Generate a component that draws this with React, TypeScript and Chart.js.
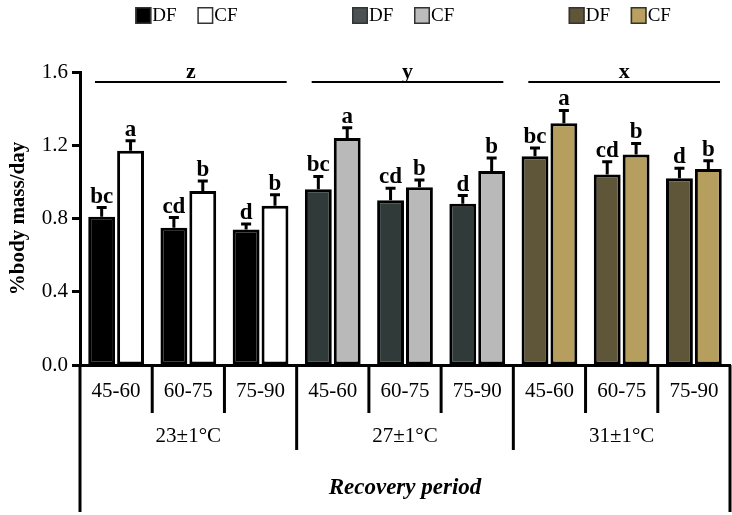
import React, { useEffect, useRef } from 'react';
import { Chart, registerables } from 'chart.js';
Chart.register(...registerables);

const FONT = '"Liberation Serif", "Times New Roman", serif';

const periods = ['45-60', '60-75', '75-90', '45-60', '60-75', '75-90', '45-60', '60-75', '75-90'];
const temperatures = ['23±1°C', '27±1°C', '31±1°C'];
const groupLetters = ['z', 'y', 'x'];
const axisTitleX = 'Recovery period';
const axisTitleY = '%body mass/day';

const dfValues = [0.81, 0.75, 0.74, 0.96, 0.9, 0.88, 1.14, 1.04, 1.02];
const dfErrors = [0.05, 0.055, 0.03, 0.07, 0.065, 0.045, 0.045, 0.07, 0.055];
const cfValues = [1.17, 0.95, 0.87, 1.24, 0.97, 1.06, 1.32, 1.15, 1.07];
const cfErrors = [0.055, 0.055, 0.06, 0.055, 0.04, 0.07, 0.07, 0.06, 0.045];
const dfLetters = ['bc', 'cd', 'd', 'bc', 'cd', 'd', 'bc', 'cd', 'd'];
const cfLetters = ['a', 'b', 'b', 'a', 'b', 'b', 'a', 'b', 'b'];

const dfColors = ['#000000', '#2f3a39', '#5f5538'];
const cfColors = ['#ffffff', '#b9b9b9', '#b59e5e'];
const dfLegendColors = ['#000000', '#4a5252', '#5f5538'];
const cfLegendColors = ['#ffffff', '#bcbcbc', '#b9a060'];

const perGroup = (cols: string[]) => periods.map((_, i) => cols[Math.floor(i / 3)]);

export default function App() {
  const ref = useRef<HTMLCanvasElement>(null);
  useEffect(() => {
    const canvas = ref.current!;
    const overlay = {
      id: 'overlay',
      afterDraw(chart: any) {
        const ctx = chart.ctx;
        const xs = chart.scales.x;
        const ys = chart.scales.y;
        const area = chart.chartArea;
        ctx.save();
        ctx.strokeStyle = '#000';
        ctx.fillStyle = '#000';
        // error bars + letters
        const sets = [
          { vals: dfValues, errs: dfErrors, lets: dfLetters },
          { vals: cfValues, errs: cfErrors, lets: cfLetters },
        ];
        sets.forEach((s, di) => {
          const meta = chart.getDatasetMeta(di);
          meta.data.forEach((bar: any, i: number) => {
            const x = bar.x;
            const yb = bar.y;
            const yt = ys.getPixelForValue(s.vals[i] + s.errs[i]);
            ctx.lineWidth = 3;
            ctx.beginPath();
            ctx.moveTo(x, yb);
            ctx.lineTo(x, yt);
            ctx.moveTo(x - 5, yt);
            ctx.lineTo(x + 5, yt);
            ctx.stroke();
            ctx.font = `bold 23px ${FONT}`;
            ctx.textAlign = 'center';
            ctx.textBaseline = 'alphabetic';
            ctx.fillText(s.lets[i], x, yt - 5);
          });
        });
        // category boundaries
        const n = periods.length;
        const bounds: number[] = [];
        for (let i = 0; i <= n; i++) {
          if (i === 0) bounds.push(area.left);
          else if (i === n) bounds.push(area.right);
          else bounds.push((xs.getPixelForValue(i - 1) + xs.getPixelForValue(i)) / 2);
        }
        // group brackets
        const lineY = ys.getPixelForValue(1.545);
        for (let g = 0; g < 3; g++) {
          const l = bounds[g * 3] + 15;
          const r = bounds[g * 3 + 3] - 10;
          ctx.lineWidth = 2;
          ctx.beginPath();
          ctx.moveTo(l, lineY);
          ctx.lineTo(r, lineY);
          ctx.stroke();
          ctx.font = `bold 22px ${FONT}`;
          ctx.textAlign = 'center';
          ctx.textBaseline = 'alphabetic';
          ctx.fillText(groupLetters[g], (l + r) / 2, lineY - 4);
        }
        // hierarchical x labels
        const base = area.bottom;
        ctx.lineWidth = 3;
        for (let i = 0; i <= n; i++) {
          let len = 48;
          if (i === 0 || i === n) len = 147;
          else if (i % 3 === 0) len = 85;
          ctx.beginPath();
          ctx.moveTo(bounds[i], base);
          ctx.lineTo(bounds[i], base + len);
          ctx.stroke();
        }
        ctx.font = `21px ${FONT}`;
        ctx.textAlign = 'center';
        ctx.textBaseline = 'middle';
        for (let i = 0; i < n; i++) {
          ctx.fillText(periods[i], (bounds[i] + bounds[i + 1]) / 2, base + 26);
        }
        for (let g = 0; g < 3; g++) {
          ctx.fillText(temperatures[g], (bounds[g * 3] + bounds[g * 3 + 3]) / 2, base + 71);
        }
        ctx.font = `italic bold 23px ${FONT}`;
        ctx.fillText(axisTitleX, (area.left + area.right) / 2, base + 123);
        // y title
        ctx.save();
        ctx.translate(19, (area.top + area.bottom) / 2);
        ctx.rotate(-Math.PI / 2);
        ctx.font = `bold 21px ${FONT}`;
        ctx.fillText(axisTitleY, 0, 0);
        ctx.restore();
        // legends
        for (let g = 0; g < 3; g++) {
          const c = (bounds[g * 3] + bounds[g * 3 + 3]) / 2;
          let x0 = c - 53;
          const items = [
            { col: dfLegendColors[g], txt: 'DF' },
            { col: cfLegendColors[g], txt: 'CF' },
          ];
          ctx.font = `19px ${FONT}`;
          ctx.textAlign = 'left';
          ctx.textBaseline = 'middle';
          items.forEach((it) => {
            ctx.fillStyle = it.col;
            ctx.fillRect(x0, 7, 16, 17);
            ctx.strokeStyle = '#333';
            ctx.lineWidth = 1.5;
            ctx.strokeRect(x0 + 0.75, 7.75, 14.5, 15.5);
            ctx.fillStyle = '#000';
            ctx.fillText(it.txt, x0 + 17, 16.5);
            x0 += 62;
          });
        }
        ctx.restore();
      },
    };
    const chart = new Chart(canvas, {
      type: 'bar',
      data: {
        labels: periods,
        datasets: [
          {
            label: 'DF',
            data: dfValues,
            backgroundColor: perGroup(dfColors),
            borderColor: '#000',
            borderWidth: 3,
            borderSkipped: false,
          },
          {
            label: 'CF',
            data: cfValues,
            backgroundColor: perGroup(cfColors),
            borderColor: '#000',
            borderWidth: 3,
            borderSkipped: false,
          },
        ],
      },
      options: {
        responsive: false,
        animation: false,
        devicePixelRatio: 1,
        layout: { padding: { top: 72, right: 2, left: 0, bottom: 0 } },
        datasets: { bar: { categoryPercentage: 0.8, barPercentage: 0.93 } },
        plugins: { legend: { display: false }, tooltip: { enabled: false } },
        scales: {
          x: {
            afterFit: (s: any) => { s.height = 150; },
            ticks: { display: false },
            grid: { display: false, drawTicks: false },
            border: { display: true, width: 3, color: '#000' },
          },
          y: {
            min: 0,
            max: 1.6,
            afterFit: (s: any) => { s.width = 80; },
            ticks: {
              stepSize: 0.4,
              callback: (v: any) => Number(v).toFixed(1),
              font: { family: FONT, size: 21 },
              color: '#000',
              padding: 4,
            },
            grid: { drawOnChartArea: false, drawTicks: true, tickLength: 8, tickWidth: 3, tickColor: '#000' },
            border: { display: true, width: 3, color: '#000' },
          },
        },
      },
      plugins: [overlay],
    });
    return () => chart.destroy();
  }, []);
  return (
    <div style={{ position: 'absolute', left: 0, top: 0, width: 732, height: 515 }}>
      <canvas ref={ref} width={732} height={515} style={{ display: 'block' }} />
    </div>
  );
}
